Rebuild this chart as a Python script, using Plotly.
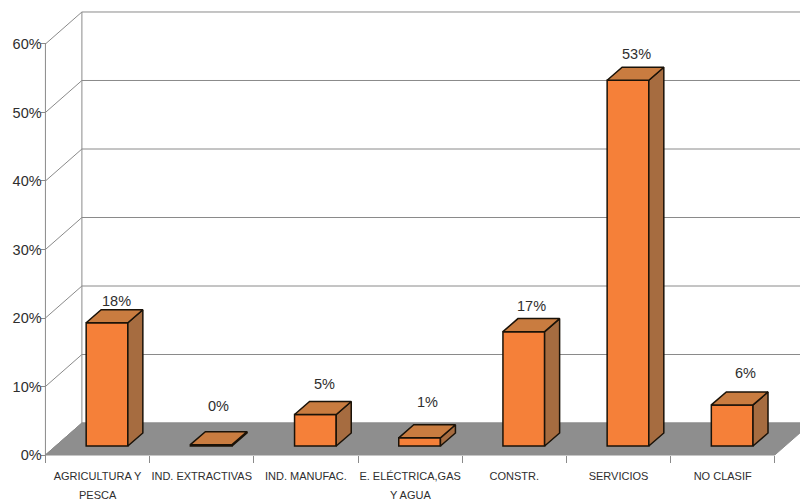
import plotly.graph_objects as go

categories = ["AGRICULTURA Y", "IND. EXTRACTIVAS", "IND. MANUFAC.", "E. ELÉCTRICA,GAS",
              "CONSTR.", "SERVICIOS", "NO CLASIF"]
category_line2 = ["PESCA", "", "", "Y AGUA", "", "", ""]
values = [18.0, 0.2, 4.6, 1.2, 16.7, 53.4, 6.0]
value_labels = ["18%", "0%", "5%", "1%", "17%", "53%", "6%"]
y_ticks = [0, 10, 20, 30, 40, 50, 60]
y_tick_labels = ["0%", "10%", "20%", "30%", "40%", "50%", "60%"]

# 3-D projection look, in axis units
FLOOR_DX, FLOOR_DY = 0.35, 4.67
BAR_OFF, BAR_LIFT, BAR_W = 0.091, 1.31, 0.40
DEPTH_DX, DEPTH_DY = 0.144, 1.9
label_xshift = [9, 7, 9, 8, 8, 9, 13]
label_yshift = [9, 26, 18, 23, 13, 13, 19]

FRONT, TOP, SIDE = "#F58039", "#C97C40", "#A66C40"
EDGE = "#1a1208"
FLOOR = "#8E8E8E"
WALL = "#8a8a8a"
TXT = "#2e2e2e"
n = len(categories)
# full-figure axes
xr_full = [-0.936, 6.742]
yr_full = [-6.86, 66.42]
x_axis_pos = 47 / 502
y_axis_pos = 45.5 / 800

fig = go.Figure()

# floor
x0, x1 = -0.5, n - 0.5
fig.add_trace(go.Scatter(x=[x0, x0 + FLOOR_DX, x1 + FLOOR_DX, x1, x0],
                         y=[0, FLOOR_DY, FLOOR_DY, 0, 0], mode="lines", fill="toself",
                         fillcolor=FLOOR, line=dict(color=FLOOR, width=1),
                         hoverinfo="skip", showlegend=False))
# left wall, back wall, value axis line
wx, wy = [], []
for t in y_ticks:
    wx += [x0, x0 + FLOOR_DX, x1 + FLOOR_DX, None]
    wy += [t, t + FLOOR_DY, t + FLOOR_DY, None]
wx += [x0 + FLOOR_DX, x0 + FLOOR_DX, None, x0, x0]
wy += [FLOOR_DY, y_ticks[-1] + FLOOR_DY, None, y_ticks[0], y_ticks[-1]]
fig.add_trace(go.Scatter(x=wx, y=wy, mode="lines", line=dict(color=WALL, width=1),
                         hoverinfo="skip", showlegend=False))

# bars on an overlaid axis pair so the faces sit above the floor
xs = [i + BAR_OFF for i in range(n)]
fig.add_trace(go.Bar(x=xs, y=values, base=[BAR_LIFT] * n, width=BAR_W, xaxis="x2", yaxis="y2",
                     marker=dict(color=FRONT, line=dict(color=EDGE, width=1.5)),
                     showlegend=False, hoverinfo="skip"))
for x, v in zip(xs, values):
    l, r = x - BAR_W / 2, x + BAR_W / 2
    b, t = BAR_LIFT, BAR_LIFT + v
    fig.add_trace(go.Scatter(x=[r, r + DEPTH_DX, r + DEPTH_DX, r, r],
                             y=[b, b + DEPTH_DY, t + DEPTH_DY, t, b], mode="lines", fill="toself",
                             fillcolor=SIDE, line=dict(color=EDGE, width=1.5), xaxis="x2", yaxis="y2",
                             showlegend=False, hoverinfo="skip"))
    fig.add_trace(go.Scatter(x=[l, r, r + DEPTH_DX, l + DEPTH_DX, l],
                             y=[t, t, t + DEPTH_DY, t + DEPTH_DY, t], mode="lines", fill="toself",
                             fillcolor=TOP, line=dict(color=EDGE, width=1.5), xaxis="x2", yaxis="y2",
                             showlegend=False, hoverinfo="skip"))

ann = []
for x, v, s, dx, dy in zip(xs, values, value_labels, label_xshift, label_yshift):
    ann.append(dict(x=x, y=v + BAR_LIFT + DEPTH_DY, xref="x", yref="y", text=s, showarrow=False,
                    xshift=dx, yshift=dy, yanchor="middle",
                    font=dict(family="Liberation Sans", size=14.5, color=TXT)))
for i, s in enumerate(category_line2):
    if s:
        ann.append(dict(x=i, y=-5.84, xref="x", yref="y", text=s, showarrow=False, yanchor="middle",
                        font=dict(family="Liberation Sans", size=11, color=TXT)))

fig.update_layout(
    width=800, height=502, margin=dict(l=0, r=0, t=0, b=0),
    paper_bgcolor="#FFFFFF", plot_bgcolor="rgba(0,0,0,0)", showlegend=False, annotations=ann,
    xaxis=dict(domain=[0, 1], range=xr_full, anchor="free", position=x_axis_pos, tickmode="array",
               tickvals=list(range(n)), automargin=False,
               ticktext=categories, tickangle=0, showgrid=False, zeroline=False, showline=False,
               ticks="outside", ticklen=7, tickcolor="rgba(0,0,0,0)", ticklabelstandoff=4,
               tickfont=dict(family="Liberation Sans", size=11, color=TXT),
               minor=dict(tickmode="array", tickvals=[i - 0.5 for i in range(n + 1)], ticks="outside",
                          ticklen=7, tickcolor=WALL, tickwidth=1)),
    yaxis=dict(domain=[0, 1], range=yr_full, anchor="free", position=y_axis_pos, tickmode="array",
               tickvals=y_ticks, automargin=False,
               ticktext=y_tick_labels, showgrid=False, zeroline=False, showline=False,
               ticks="outside", ticklen=5, tickcolor=WALL, ticklabelstandoff=-4,
               tickfont=dict(family="Liberation Sans", size=14.5, color=TXT)),
    xaxis2=dict(range=xr_full, overlaying="x", visible=False, automargin=False),
    yaxis2=dict(range=yr_full, overlaying="y", visible=False, automargin=False),
)
fig.write_html("out.html", config={"displayModeBar": False},
               post_script="document.body.style.margin='0';")
